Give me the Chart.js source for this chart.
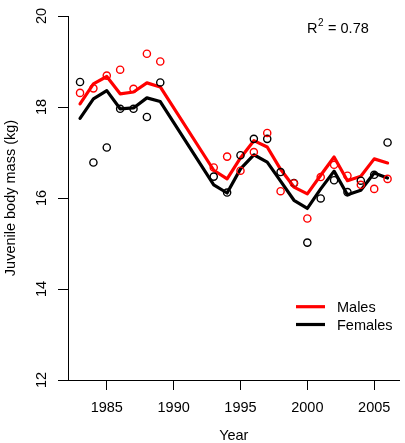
<!DOCTYPE html>
<html>
<head>
<meta charset="utf-8">
<script src="https://cdn.jsdelivr.net/npm/chart.js@4/dist/chart.umd.min.js"></script>
<style>
  body { margin: 0; background: #fff; }
  canvas { display: block; }
</style>
</head>
<body>
<canvas id="massChart" width="405" height="443"></canvas>
<script>
// years with data (gap 1990-1992)
const years = [1983, 1984, 1985, 1986, 1987, 1988, 1989,
  1993, 1994, 1995, 1996, 1997, 1998, 1999, 2000, 2001, 2002, 2003, 2004, 2005, 2006];

// fitted values (lines)
const maleFit = [18.07, 18.51, 18.67, 18.29, 18.33, 18.53, 18.44,
  16.61, 16.42, 16.88, 17.26, 17.12, 16.63, 16.24, 16.09, 16.50, 16.90, 16.38, 16.48, 16.86, 16.77];
const femaleFit = [17.75, 18.18, 18.36, 17.96, 17.98, 18.20, 18.12,
  16.29, 16.11, 16.64, 16.95, 16.79, 16.37, 15.95, 15.77, 16.20, 16.59, 16.07, 16.17, 16.55, 16.44];

// observed means (circles)
const maleObs = [18.31, 18.41, 18.69, 18.82, 18.40, 19.17, 19.00,
  16.67, 16.91, 16.60, 17.01, 17.43, 16.15, 16.32, 15.55, 16.46, 16.73, 16.49, 16.29, 16.20, 16.42];
const femaleObs = [18.55, 16.78, 17.11, 17.96, 17.96, 17.78, 18.54,
  16.47, 16.12, 16.94, 17.30, 17.30, 16.57, 16.33, 15.02, 15.99, 16.39, 16.13, 16.38, 16.51, 17.22];

const xTicks = [1985, 1990, 1995, 2000, 2005];
const yTicks = [12, 14, 16, 18, 20];
const rSquared = '0.78';

const FONT = '"Liberation Sans", Arial, sans-serif';

function pts(ys) {
  return years.map((y, i) => ({ x: y, y: ys[i] }));
}

// y tick labels (rotated like R) + legend + R^2 text
const extras = {
  id: 'extras',
  afterDraw(chart) {
    const ctx = chart.ctx;
    const yScale = chart.scales.y;
    ctx.save();
    ctx.fillStyle = '#000';
    ctx.font = '14.5px ' + FONT;

    yTicks.forEach(v => {
      const py = yScale.getPixelForValue(v);
      ctx.save();
      ctx.translate(46, py);
      ctx.rotate(-Math.PI / 2);
      ctx.textAlign = 'center';
      ctx.textBaseline = 'alphabetic';
      ctx.fillText(String(v), 0, 0);
      ctx.restore();
    });

    // R^2
    ctx.textAlign = 'left';
    ctx.textBaseline = 'alphabetic';
    ctx.fillText('R', 307, 32.7);
    let w = ctx.measureText('R').width;
    ctx.font = '10px ' + FONT;
    ctx.fillText('2', 307 + w + 0.5, 26);
    let w2 = ctx.measureText('2').width;
    ctx.font = '14.5px ' + FONT;
    ctx.fillText(' = ' + rSquared, 307 + w + w2 + 1, 32.7);

    // legend
    ctx.lineWidth = 3.2;
    ctx.lineCap = 'butt';
    ctx.strokeStyle = '#ff0000';
    ctx.beginPath(); ctx.moveTo(296, 306.7); ctx.lineTo(325, 306.7); ctx.stroke();
    ctx.strokeStyle = '#000';
    ctx.beginPath(); ctx.moveTo(296, 324.5); ctx.lineTo(325, 324.5); ctx.stroke();
    ctx.fillText('Males', 337, 312.3);
    ctx.fillText('Females', 337, 330.3);
    ctx.restore();
  }
};

const ctx = document.getElementById('massChart').getContext('2d');
const massChart = new Chart(ctx, {
  type: 'line',
  data: {
    datasets: [
      {
        label: 'Males obs',
        data: pts(maleObs),
        showLine: false,
        pointStyle: 'circle',
        pointRadius: 3.6,
        pointBorderWidth: 1.4,
        pointBorderColor: '#ff0000',
        pointBackgroundColor: 'rgba(0,0,0,0)'
      },
      {
        label: 'Females obs',
        data: pts(femaleObs),
        showLine: false,
        pointStyle: 'circle',
        pointRadius: 3.6,
        pointBorderWidth: 1.4,
        pointBorderColor: '#000000',
        pointBackgroundColor: 'rgba(0,0,0,0)'
      },
      {
        label: 'Males',
        data: pts(maleFit),
        borderColor: '#ff0000',
        borderWidth: 3.2,
        pointRadius: 0,
        tension: 0,
        borderJoinStyle: 'round',
        borderCapStyle: 'round'
      },
      {
        label: 'Females',
        data: pts(femaleFit),
        borderColor: '#000000',
        borderWidth: 3.2,
        pointRadius: 0,
        tension: 0,
        borderJoinStyle: 'round',
        borderCapStyle: 'round'
      }
    ]
  },
  options: {
    responsive: false,
    animation: false,
    layout: { padding: { top: 16, right: 0, left: 0, bottom: 0 } },
    plugins: {
      legend: { display: false },
      tooltip: { enabled: false }
    },
    scales: {
      x: {
        type: 'linear',
        min: 1982.1,
        max: 2006.9,
        afterBuildTicks: s => { s.ticks = xTicks.map(v => ({ value: v })); },
        afterFit: s => { s.height = 63; },
        grid: { drawOnChartArea: false, drawTicks: true, tickLength: 10, color: '#000', lineWidth: 1 },
        border: { display: true, color: '#000', width: 1 },
        ticks: {
          color: '#000',
          padding: 9,
          maxRotation: 0,
          font: { family: FONT, size: 14.5 },
          callback: v => String(v)
        },
        title: {
          display: true,
          text: 'Year',
          color: '#000',
          font: { family: FONT, size: 14.5, lineHeight: 1 },
          padding: { top: 0, bottom: 0 }
        }
      },
      y: {
        type: 'linear',
        min: 12,
        max: 20,
        afterBuildTicks: s => { s.ticks = yTicks.map(v => ({ value: v })); },
        afterFit: s => { s.width = 68; },
        grid: { drawOnChartArea: false, drawTicks: true, tickLength: 10, color: '#000', lineWidth: 1 },
        border: { display: true, color: '#000', width: 1 },
        ticks: { display: false },
        title: {
          display: true,
          text: 'Juvenile body mass (kg)',
          color: '#000',
          font: { family: FONT, size: 14.5, lineHeight: 1 },
          padding: { top: 3.5, bottom: 0 }
        }
      }
    }
  },
  plugins: [extras]
});
</script>
</body>
</html>
